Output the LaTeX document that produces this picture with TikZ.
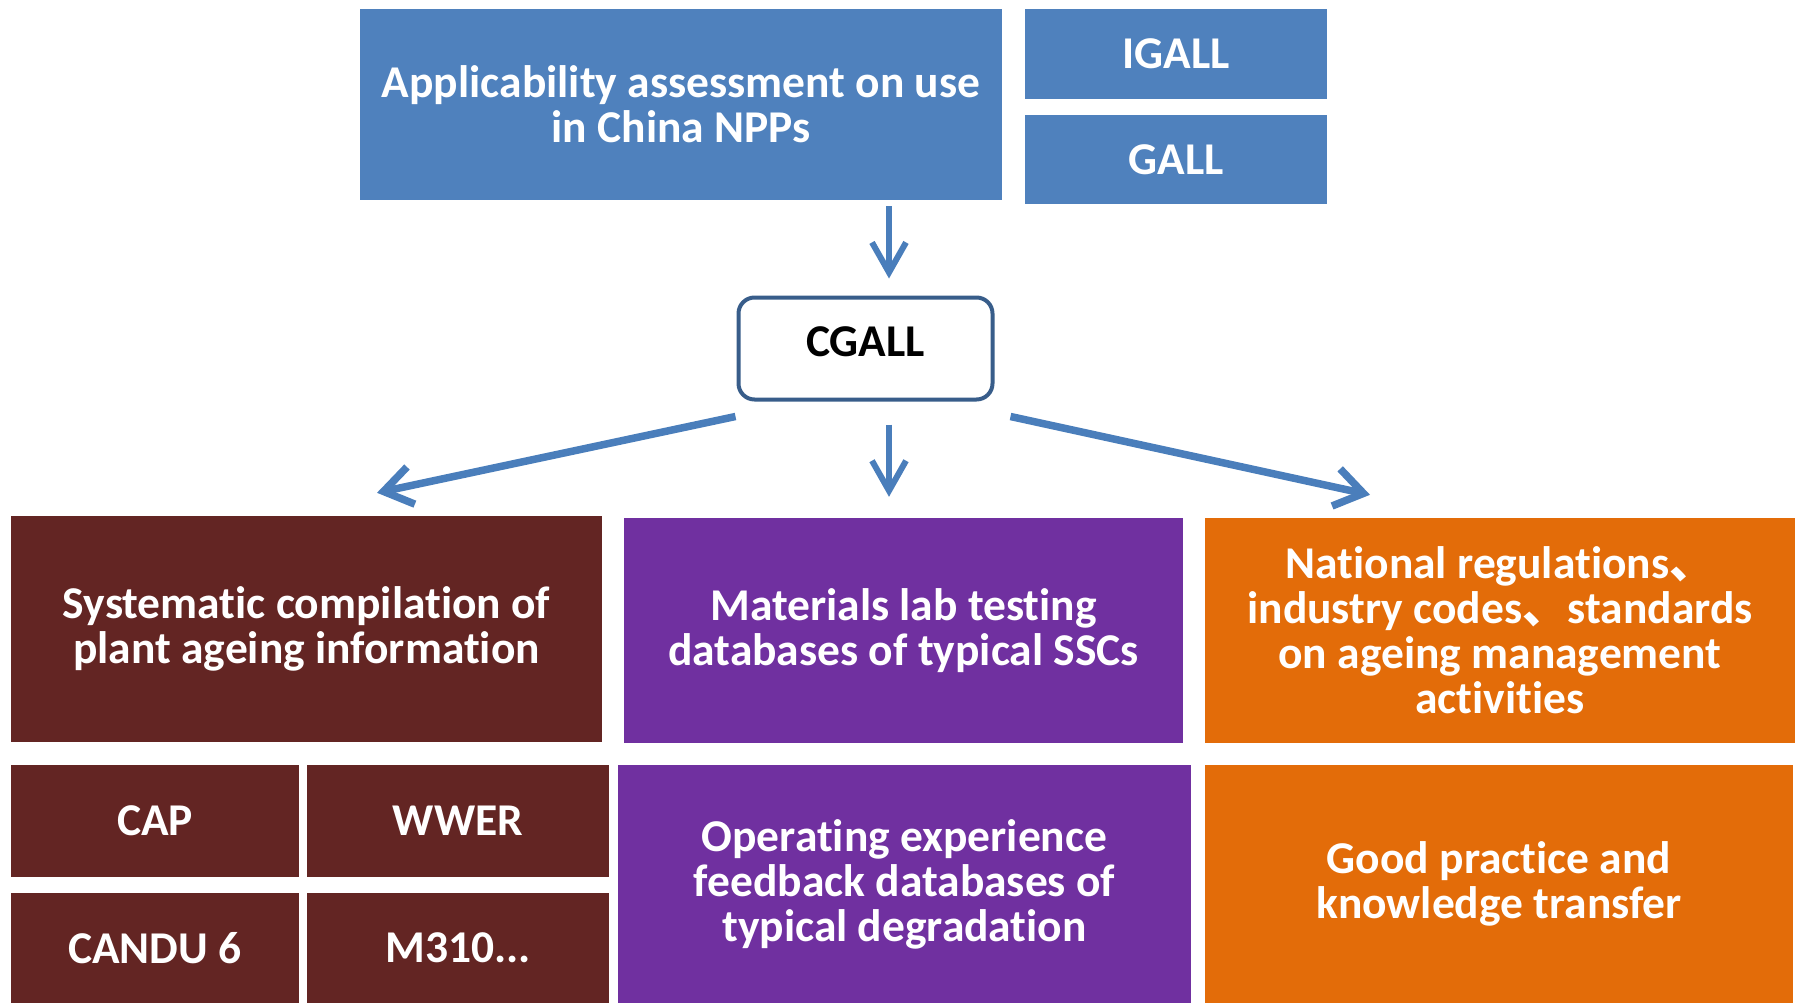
\documentclass[tikz,border=0pt]{standalone}
\usepackage{fontspec}
\setmainfont{Carlito}[Ligatures=NoCommon, RawFeature={-liga;-clig;-calt;-dlig}]
\newfontfamily\cjkfont{Noto Sans CJK SC}
\usetikzlibrary{arrows.meta}
\definecolor{bluebox}{HTML}{4F81BD}
\definecolor{arrowblue}{HTML}{4A7EBB}
\definecolor{cgborder}{HTML}{385D8A}
\definecolor{brownbox}{HTML}{632523}
\definecolor{purplebox}{HTML}{7030A0}
\definecolor{orangebox}{HTML}{E36C09}
\newcommand{\ideocomma}{\smash{\cjkfont 、}}
\begin{document}
\begin{tikzpicture}[x=1pt,y=-1pt,
  box/.style={rectangle, inner sep=0pt, align=center, text=white,
    font=\bfseries\fontsize{45.5}{45}\selectfont},
  bluefill/.style={box, fill=bluebox},
  brownfill/.style={box, fill=brownbox},
  purplefill/.style={box, fill=purplebox},
  orangefill/.style={box, fill=orangebox},
  arrv/.style={draw=arrowblue, line width=6pt, -{Straight Barb[length=30pt,width=34pt]}},
  arrs/.style={draw=arrowblue, line width=7.5pt, -{Straight Barb[length=28pt,width=38pt]}}
]
\useasboundingbox (0,0) rectangle (1798,1003);
% top row
\node[bluefill, minimum width=642pt, minimum height=191pt] (app) at (681,104.5)
  {Applicability assessment on use\\in China NPPs};
\node[bluefill, minimum width=302pt, minimum height=90pt] (igall) at (1176,54) {IGALL};
\node[bluefill, minimum width=302pt, minimum height=89pt] (gall) at (1176,159.5) {GALL};
% center
\node[box, text=black, draw=cgborder, line width=4pt, fill=white, rounded corners=16pt,
  minimum width=254pt, minimum height=102pt, text height=28pt, text depth=12pt] (cgall) at (865.5,348.5) {CGALL};
% middle row
\node[brownfill, minimum width=591pt, minimum height=226pt] (sys) at (306.5,629)
  {Systematic compilation of\\plant ageing information};
\node[purplefill, minimum width=559pt, minimum height=225pt] (mat) at (903.5,630.5)
  {Materials lab testing\\databases of typical SSCs};
\node[orangefill, minimum width=590pt, minimum height=225pt] (nat) at (1500,630.5)
  {National regulations\ideocomma\\industry codes\ideocomma standards\\on ageing management\\activities};
% bottom row
\node[brownfill, minimum width=288pt, minimum height=112pt] (cap) at (155,821) {CAP};
\node[brownfill, minimum width=302pt, minimum height=112pt] (wwer) at (458,821) {WWER};
\node[brownfill, minimum width=288pt, minimum height=110pt] (candu) at (155,948) {CANDU 6};
\node[brownfill, minimum width=302pt, minimum height=110pt] (m310) at (458,948) {M310...};
\node[purplefill, minimum width=573pt, minimum height=238pt] (ope) at (904.5,884)
  {Operating experience\\feedback databases of\\typical degradation};
\node[orangefill, minimum width=588pt, minimum height=238pt] (good) at (1499,884)
  {Good practice and\\knowledge transfer};
% connectors
\draw[arrv] ([xshift=208pt,yshift=-6pt]app.south) -- ([xshift=23.5pt,yshift=17pt]cgall.north);
\draw[arrv] ([xshift=23.5pt,yshift=-23pt]cgall.south) -- ([xshift=-14.5pt,yshift=21pt]mat.north);
\draw[arrs] ([xshift=-1pt,yshift=-15pt]cgall.south west) -- ([xshift=70.5pt,yshift=23pt]sys.north);
\draw[arrs] ([xshift=16pt,yshift=-15pt]cgall.south east) -- ([xshift=-130pt,yshift=23pt]nat.north);
\end{tikzpicture}
\end{document}
